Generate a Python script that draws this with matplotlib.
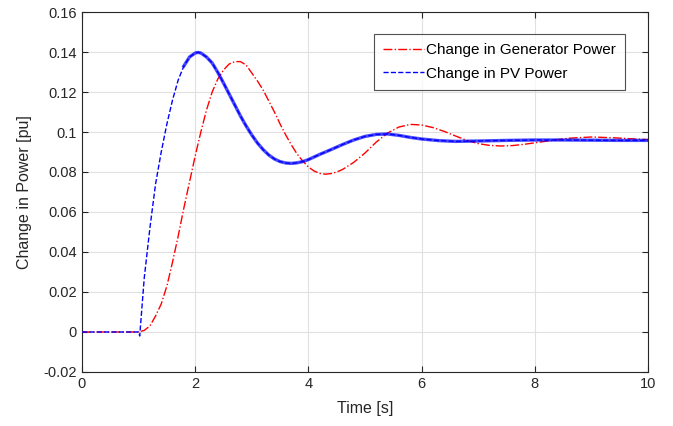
import numpy as np
import matplotlib
matplotlib.use("Agg")
import matplotlib.pyplot as plt

plt.rcParams["font.family"] = ["Liberation Sans", "DejaVu Sans"]

# ---- data ----
t_gen = [0, 1.0, 1.1, 1.2, 1.3, 1.4, 1.5, 1.6, 1.7, 1.8, 1.9, 2.0, 2.1, 2.2, 2.3, 2.4,
         2.5, 2.6, 2.7, 2.8, 2.9, 3.0, 3.1, 3.2, 3.3, 3.4, 3.5, 3.6, 3.7, 3.8, 3.9, 4.0,
         4.1, 4.2, 4.3, 4.4, 4.5, 4.6, 4.8, 5.0, 5.2, 5.4, 5.6, 5.8, 6.0, 6.2, 6.4, 6.6,
         6.8, 7.0, 7.2, 7.4, 7.6, 7.8, 8.0, 8.3, 8.6, 9.0, 9.4, 9.7, 10.0]
p_gen = [0, 0, 0.0008, 0.003, 0.008, 0.014, 0.023, 0.035, 0.048, 0.062, 0.075, 0.088,
         0.100, 0.111, 0.120, 0.1265, 0.131, 0.134, 0.1352, 0.1352, 0.1335, 0.1295,
         0.1255, 0.121, 0.1155, 0.110, 0.104, 0.0985, 0.0935, 0.089, 0.0855, 0.0825,
         0.0805, 0.0793, 0.0789, 0.0792, 0.080, 0.0812, 0.0848, 0.0895, 0.0950, 0.0995,
         0.1025, 0.1038, 0.1035, 0.1022, 0.1003, 0.098, 0.0958, 0.0942, 0.0933, 0.0930,
         0.0932, 0.0938, 0.0946, 0.0958, 0.0969, 0.0975, 0.0971, 0.0966, 0.0962]

t_pv = [0, 1.0, 1.02, 1.1, 1.2, 1.3, 1.4, 1.5, 1.6, 1.7, 1.8, 1.9, 2.0, 2.05, 2.1, 2.2,
        2.3, 2.4, 2.5, 2.6, 2.7, 2.8, 2.9, 3.0, 3.1, 3.2, 3.3, 3.4, 3.5, 3.6, 3.7, 3.8,
        3.9, 4.0, 4.2, 4.4, 4.6, 4.8, 5.0, 5.2, 5.4, 5.6, 5.8, 6.0, 6.3, 6.6, 7.0, 7.5,
        8.0, 8.5, 9.0, 9.5, 10.0]
p_pv = [0, 0, -0.002, 0.027, 0.052, 0.074, 0.090, 0.104, 0.116, 0.126, 0.133, 0.1375,
        0.1395, 0.1398, 0.1395, 0.1375, 0.1345, 0.1298, 0.1245, 0.1190, 0.1135, 0.1080,
        0.1030, 0.0985, 0.0945, 0.0912, 0.0885, 0.0865, 0.0852, 0.0845, 0.0843, 0.0846,
        0.0852, 0.0862, 0.0888, 0.0912, 0.0937, 0.0960, 0.0978, 0.0988, 0.0990, 0.0983,
        0.0973, 0.0965, 0.0957, 0.0953, 0.0955, 0.0958, 0.0960, 0.0960, 0.0959, 0.0958,
        0.0958]

xticks = [0, 2, 4, 6, 8, 10]
yticks = [-0.02, 0, 0.02, 0.04, 0.06, 0.08, 0.1, 0.12, 0.14, 0.16]
ytick_labels = ["-0.02", "0", "0.02", "0.04", "0.06", "0.08", "0.1", "0.12", "0.14", "0.16"]

fig = plt.figure(figsize=(6.73, 4.26), dpi=100)
ax = fig.add_axes([0.1218, 0.1268, 0.8411, 0.845])

ax.plot(t_gen, p_gen, color="#ff0000", ls="-.", lw=1.0, label="Change in Generator Power", zorder=3)
ax.plot(t_pv, p_pv, color="#0000ff", ls="--", lw=1.0, label="Change in PV Power", zorder=4)
# noisy PV band after the initial rise (thin-then-thick like the measured trace)
n0 = t_pv.index(1.8)
ax.plot(t_pv[n0:], p_pv[n0:], color="#0000ff", ls="-", lw=2.4, alpha=0.7, zorder=4)

ax.set_xlim(0, 10)
ax.set_ylim(-0.02, 0.16)
ax.set_xticks(xticks)
ax.set_yticks(yticks)
ax.set_yticklabels(ytick_labels)
ax.grid(True, color="#e0e0e0", lw=0.8)
ax.set_axisbelow(True)
ax.tick_params(direction="in", top=True, right=True, labelsize=10.5, colors="#262626", length=4)
for s in ax.spines.values():
    s.set_color("#262626")
    s.set_linewidth(0.8)
ax.set_xlabel("Time [s]", fontsize=11.5, color="#262626", labelpad=7)
ax.set_ylabel("Change in Power [pu]", fontsize=11.5, color="#262626", labelpad=8)

leg = ax.legend(loc="upper right", bbox_to_anchor=(0.959, 0.938), borderaxespad=0,
                fontsize=11, frameon=True, fancybox=False, handlelength=2.7,
                handletextpad=0.1, borderpad=0.6, labelspacing=0.6)
leg.get_frame().set_edgecolor("#262626")
leg.get_frame().set_linewidth(0.8)

fig.savefig("out.png", dpi=100)
